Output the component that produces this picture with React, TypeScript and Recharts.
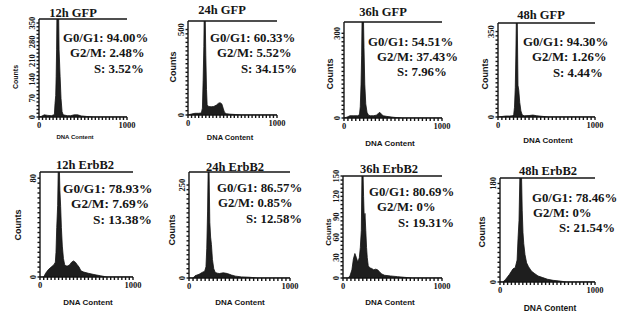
import { Area, AreaChart, ReferenceLine, XAxis, YAxis } from "recharts";

// histogram points: DNA content (0-1000) and counts
const gfp12X = [0, 30, 60, 100, 140, 170, 175, 182, 190, 195, 200, 205, 222, 228, 240, 250, 262, 275, 320, 360, 400, 440, 480, 540, 620, 1000];
const gfp12Y = [0, 3, 8, 6, 5, 8, 10, 50, 80, 150, 250, 420, 420, 250, 150, 70, 20, 8, 5, 5, 8, 8, 4, 2, 0, 0];

const gfp24X = [0, 40, 80, 120, 150, 162, 170, 178, 183, 192, 200, 208, 215, 230, 260, 290, 320, 340, 360, 380, 395, 410, 430, 470, 530, 600, 1000];
const gfp24Y = [0, 6, 10, 10, 12, 40, 200, 400, 620, 620, 350, 150, 60, 50, 48, 50, 58, 68, 72, 65, 40, 15, 8, 5, 3, 0, 0];

const gfp36X = [0, 30, 60, 100, 140, 158, 166, 174, 180, 186, 196, 204, 212, 222, 235, 250, 270, 300, 330, 350, 365, 380, 400, 430, 470, 520, 600, 1000];
const gfp36Y = [0, 3, 8, 8, 8, 12, 40, 120, 220, 400, 400, 250, 120, 50, 20, 10, 8, 8, 10, 16, 20, 14, 8, 6, 4, 2, 0, 0];

const gfp48X = [0, 40, 80, 120, 150, 162, 170, 178, 184, 190, 198, 206, 214, 224, 236, 250, 270, 320, 360, 400, 450, 520, 1000];
const gfp48Y = [0, 2, 4, 4, 5, 10, 40, 120, 250, 420, 420, 130, 110, 60, 25, 8, 5, 6, 8, 5, 3, 0, 0];

const erb12X = [0, 40, 60, 90, 120, 150, 165, 172, 180, 190, 198, 206, 214, 222, 230, 240, 252, 265, 280, 300, 320, 340, 360, 380, 400, 420, 440, 470, 520, 580, 650, 720, 1000];
const erb12Y = [0, 0, 3, 6, 8, 10, 12, 20, 40, 58, 95, 95, 70, 57, 40, 25, 15, 10, 9, 9, 10, 12, 13, 12, 10, 8, 5, 4, 3, 2, 1, 0, 0];

const erb24X = [0, 40, 60, 100, 130, 155, 168, 176, 184, 190, 198, 206, 214, 222, 232, 245, 260, 280, 300, 340, 380, 420, 460, 520, 600, 680, 1000];
const erb24Y = [0, 0, 6, 10, 15, 18, 30, 80, 180, 300, 300, 150, 110, 90, 50, 25, 15, 13, 12, 14, 12, 8, 5, 3, 2, 0, 0];

const erb36X = [0, 50, 70, 90, 105, 120, 135, 150, 165, 175, 185, 192, 200, 208, 215, 222, 230, 238, 245, 255, 270, 290, 310, 330, 350, 370, 390, 420, 480, 550, 620, 700, 1000];
const erb36Y = [0, 0, 3, 12, 28, 36, 30, 23, 30, 45, 70, 160, 170, 120, 85, 95, 70, 45, 30, 18, 15, 14, 12, 13, 12, 9, 6, 4, 3, 2, 1, 0, 0];

const erb48X = [0, 30, 60, 100, 137, 160, 180, 190, 200, 210, 218, 226, 234, 242, 250, 263, 280, 300, 330, 360, 400, 450, 500, 560, 620, 700, 1000];
const erb48Y = [0, 0, 5, 14, 24, 26, 40, 80, 112, 200, 200, 200, 130, 90, 70, 50, 35, 28, 20, 16, 11, 8, 5, 3, 2, 0, 0];

const titles = ["12h GFP", "24h GFP", "36h GFP", "48h GFP", "12h ErbB2", "24h ErbB2", "36h ErbB2", "48h ErbB2"];
const g0g1 = ["94.00%", "60.33%", "54.51%", "94.30%", "78.93%", "86.57%", "80.69%", "78.46%"];
const g2m = ["2.48%", "5.52%", "37.43%", "1.26%", "7.69%", "0.85%", "0%", "0%"];
const sPhase = ["3.52%", "34.15%", "7.96%", "4.44%", "13.38%", "12.58%", "19.31%", "21.54%"];

const yTickLabels = [
  [0, 70, 140, 210, 280, 350],
  [0, 500],
  [0, 300],
  [0, 350],
  [0, 80],
  [0, 250],
  [0, 30, 60, 90, 120, 150],
  [0, 180],
];
const yMax = [365, 550, 340, 385, 85, 285, 150, 190];
const xTickLabels = [0, 1000];

const seriesX = [gfp12X, gfp24X, gfp36X, gfp48X, erb12X, erb24X, erb36X, erb48X];
const seriesY = [gfp12Y, gfp24Y, gfp36Y, gfp48Y, erb12Y, erb24Y, erb36Y, erb48Y];

// page layout of each panel (plot box, text spots) measured on the scan
const panels = [
  { box: [39, 19, 127, 117], minor: 25, title: [73, 13], counts: [15, 77, 7], dna: [75, 137, 6], stats: [[63, 38], [70, 53], [94, 69]], fs: 12.8 },
  { box: [188, 21, 277, 115], minor: 20, title: [222, 10], counts: [173, 67, 9], dna: [230, 137, 7.5], stats: [[210, 38], [217, 53], [241, 69]], fs: 12.8 },
  { box: [344, 22, 442, 118], minor: 20, title: [383, 12], counts: [330, 74, 9], dna: [390, 143, 8], stats: [[368, 42], [377, 57], [397, 72]], fs: 12.8 },
  { box: [498, 23, 595, 117], minor: 20, title: [541, 15], counts: [485, 74, 9], dna: [548, 140, 8], stats: [[523, 42], [532, 57], [553, 73]], fs: 12.8 },
  { box: [40, 172, 133, 277], minor: 20, title: [85, 165], counts: [18, 225, 9], dna: [88, 302, 8], stats: [[63, 188], [71, 203], [93, 219]], fs: 13.4 },
  { box: [189, 172, 290, 278], minor: 20, title: [235, 167], counts: [172, 230, 9], dna: [240, 302, 8], stats: [[217, 188], [218, 203], [246, 219]], fs: 12.8 },
  { box: [343, 176, 442, 278], minor: 25, title: [389, 169], counts: [328, 232, 8], dna: [390, 302, 8], stats: [[369, 192], [377, 207], [398, 223]], fs: 12.8 },
  { box: [500, 178, 595, 282], minor: 20, title: [548, 171], counts: [482, 232, 9], dna: [550, 308, 8.5], stats: [[532, 198], [533, 213], [559, 228]], fs: 12.8 },
];

const INK = "#151515";
const SERIF = "'Liberation Serif', 'Times New Roman', serif";
const SANS = "'Liberation Sans', Arial, sans-serif";

const xTicks: number[] = [];
for (let v = 0; v <= 1000; v += 40) xTicks.push(v);

function Histogram({ idx }: { idx: number }) {
  const p = panels[idx];
  const [l, t, r, b] = p.box;
  const padL = 24;
  const padT = 10;
  const padR = 16;
  const padB = 20;
  const ymax = yMax[idx];
  const labels = yTickLabels[idx];
  const top = labels[labels.length - 1];
  const yTicks: number[] = [];
  for (let i = 0; i <= p.minor; i++) yTicks.push((top * i) / p.minor);
  const data = seriesX[idx].map((x, i) => ({ x, c: seriesY[idx][i] }));

  const renderYTick = (props: any) => {
    const v = Number(props.payload?.value ?? 0);
    const hit = labels.find((lv) => Math.abs(lv - v) < ymax * 1e-3);
    if (hit === undefined) return <g />;
    const tx = props.x - 3.5;
    const ty = props.y;
    return (
      <g transform={`translate(${tx},${ty})`}>
        <text transform="rotate(-90)" textAnchor="middle" dy="0.35em" fontFamily={SERIF} fontWeight="bold" fontSize={8.5} fill={INK}>
          {String(hit)}
        </text>
      </g>
    );
  };

  return (
    <div style={{ position: "absolute", left: l - padL, top: t - padT }}>
      <AreaChart
        width={r - l + padL + padR}
        height={b - t + padT + padB}
        data={data}
        margin={{ top: padT, right: padR, bottom: 0, left: 0 }}
      >
        <XAxis
          type="number"
          dataKey="x"
          domain={[0, 1000]}
          ticks={xTicks}
          interval={0}
          height={padB}
          tickSize={3}
          tickMargin={2}
          stroke={INK}
          strokeWidth={1.4}
          tick={(props: any) =>
            xTickLabels.includes(props.payload.value) ? (
              <text x={props.x} y={props.y} dy="0.71em" textAnchor="middle" fontFamily={SERIF} fontWeight="bold" fontSize={8.5} fill={INK}>
                {props.payload.value}
              </text>
            ) : (
              <g />
            )
          }
        />
        <YAxis
          type="number"
          domain={[0, ymax]}
          allowDataOverflow
          ticks={yTicks}
          interval={0}
          width={padL}
          tickSize={2.5}
          tickMargin={1}
          stroke={INK}
          strokeWidth={1.4}
          tick={renderYTick}
        />
        <ReferenceLine y={ymax} stroke={INK} strokeWidth={1.4} />
        <Area
          dataKey="c"
          type="linear"
          baseValue={0}
          fill="#1e1e1e"
          fillOpacity={1}
          stroke="#111"
          strokeWidth={0.8}
          isAnimationActive={false}
        />
      </AreaChart>
    </div>
  );
}

export default function App() {
  return (
    <div style={{ position: "absolute", left: 0, top: 0, width: 630, height: 318, background: "#fff", overflow: "hidden" }}>
      {panels.map((_, i) => (
        <Histogram key={i} idx={i} />
      ))}
      <svg width={630} height={318} style={{ position: "absolute", left: 0, top: 0, pointerEvents: "none" }}>
        {panels.map((p, i) => (
          <g key={i} fill={INK}>
            <text x={p.title[0]} y={p.title[1]} textAnchor="middle" dominantBaseline="central" fontFamily={SERIF} fontWeight="bold" fontSize={12.5}>
              {titles[i]}
            </text>
            <text
              transform={`translate(${p.counts[0]},${p.counts[1]}) rotate(-90)`}
              textAnchor="middle"
              dominantBaseline="central"
              fontFamily={SANS}
              fontWeight="bold"
              fontSize={p.counts[2]}
            >
              Counts
            </text>
            <text x={p.dna[0]} y={p.dna[1]} textAnchor="middle" dominantBaseline="central" fontFamily={SANS} fontWeight="bold" fontSize={p.dna[2]}>
              DNA Content
            </text>
            {[`G0/G1: ${g0g1[i]}`, `G2/M: ${g2m[i]}`, `S: ${sPhase[i]}`].map((s, k) => (
              <text key={k} x={p.stats[k][0]} y={p.stats[k][1]} dominantBaseline="central" fontFamily={SERIF} fontWeight="bold" fontSize={p.fs}>
                {s}
              </text>
            ))}
          </g>
        ))}
      </svg>
    </div>
  );
}
